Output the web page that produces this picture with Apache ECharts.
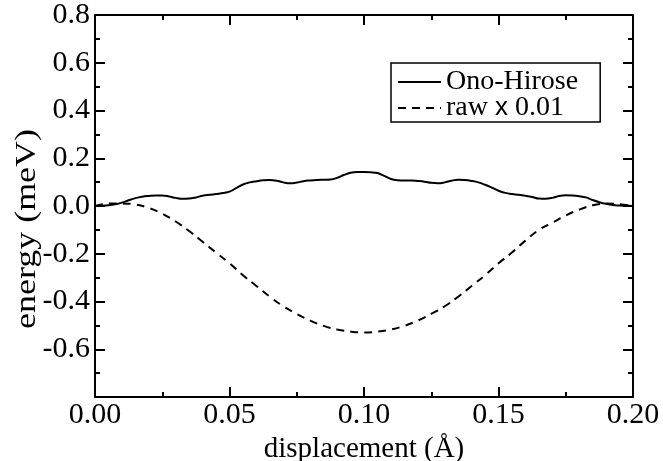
<!DOCTYPE html>
<html>
<head>
<meta charset="utf-8">
<script src="https://cdn.jsdelivr.net/npm/echarts@6/dist/echarts.min.js"></script>
<style>
  html, body { margin: 0; padding: 0; background: #fff; }
  #chart { width: 663px; height: 461px; }
</style>
</head>
<body>
<div id="chart"></div>
<script>
// displacement (Å) sample points
const xOno = [];
for (let i = 0; i <= 80; i++) xOno.push(+(i * 0.0025).toFixed(4));
// Ono-Hirose energy (meV), every 0.0025 Å
const onoHirose = [
  0.000, 0.001, 0.003, 0.007, 0.014, 0.024, 0.033, 0.039, 0.042, 0.044,
  0.044, 0.040, 0.034, 0.030, 0.031, 0.036, 0.043, 0.047, 0.050, 0.054,
  0.060, 0.075, 0.090, 0.099, 0.104, 0.108, 0.109, 0.106, 0.099, 0.095,
  0.098, 0.104, 0.107, 0.109, 0.110, 0.111, 0.118, 0.130, 0.139, 0.142,
  0.142, 0.141, 0.138, 0.126, 0.113, 0.108, 0.107, 0.107, 0.105, 0.102,
  0.097, 0.095, 0.099, 0.106, 0.110, 0.109, 0.105, 0.099, 0.089, 0.077,
  0.064, 0.055, 0.050, 0.047, 0.043, 0.038, 0.031, 0.030, 0.034, 0.042,
  0.045, 0.044, 0.041, 0.036, 0.025, 0.016, 0.009, 0.004, 0.002, 0.001,
  0.000
];
// raw x 0.01, every 0.005 Å
const xRaw = [];
for (let i = 0; i <= 40; i++) xRaw.push(+(i * 0.005).toFixed(4));
const rawScaled = [
  0.000, 0.010, 0.011, 0.006, -0.008, -0.032, -0.065, -0.105, -0.150, -0.195,
  -0.240, -0.290, -0.335, -0.380, -0.420, -0.452, -0.480, -0.502, -0.517, -0.526,
  -0.530, -0.526, -0.517, -0.502, -0.480, -0.452, -0.420, -0.380, -0.335, -0.290,
  -0.240, -0.195, -0.145, -0.100, -0.070, -0.040, -0.015, 0.003, 0.010, 0.008,
  0.000
];
const seriesNames = ['Ono-Hirose', 'raw x 0.01'];

const serif = '"Liberation Serif", "DejaVu Serif", serif';
const sans = '"Liberation Sans", Arial, sans-serif';

const pair = (xs, ys) => xs.map((x, i) => [x, ys[i]]);

const tickCommon = {
  axisLine: { show: true, onZero: false, lineStyle: { color: '#000', width: 2 } },
  axisTick: { show: true, inside: true, length: 10, lineStyle: { color: '#000', width: 2 } },
  minorTick: { show: true, splitNumber: 2, length: 5, lineStyle: { color: '#000', width: 2 } },
  splitLine: { show: false }
};

const xBase = { type: 'value', min: 0, max: 0.2, interval: 0.05, ...tickCommon };
const yBase = { type: 'value', min: -0.8, max: 0.8, interval: 0.2, ...tickCommon };

const chart = echarts.init(document.getElementById('chart'), null, { renderer: 'canvas' });
chart.setOption({
  animation: false,
  backgroundColor: '#fff',
  grid: { left: 95, right: 30, top: 15, bottom: 64, outerBoundsMode: 'none', containLabel: false },
  xAxis: [
    {
      ...xBase,
      position: 'bottom',
      name: 'displacement (Å)',
      nameLocation: 'middle',
      nameGap: 29,
      nameTextStyle: { fontFamily: serif, fontSize: 29, color: '#000' },
      axisLabel: {
        fontFamily: serif, fontSize: 30, color: '#000', margin: 3,
        formatter: v => v.toFixed(2)
      }
    },
    { ...xBase, position: 'top', axisLabel: { show: false } }
  ],
  yAxis: [
    {
      ...yBase,
      position: 'left',
      axisLabel: {
        fontFamily: serif, fontSize: 30, color: '#000', margin: 5,
        formatter: v => (Math.abs(v + 0.8) < 1e-6 ? '' : v.toFixed(1))
      }
    },
    { ...yBase, position: 'right', axisLabel: { show: false } }
  ],
  // y axis title, a little stretched along its length like the reference
  graphic: [
    {
      type: 'text',
      x: 27,
      y: 229,
      rotation: Math.PI / 2,
      scaleX: 1.24,
      style: {
        text: 'energy (meV)',
        font: '29px "Liberation Serif", serif',
        fill: '#000',
        align: 'center',
        verticalAlign: 'middle'
      }
    }
  ],
  legend: {
    orient: 'vertical',
    left: 391,
    top: 63,
    padding: [5, 22, 0, 6],
    itemGap: -2,
    itemWidth: 43,
    itemHeight: 14,
    borderColor: '#000',
    borderWidth: 1.5,
    borderRadius: 0,
    backgroundColor: '#fff',
    itemStyle: { opacity: 0 },
    data: seriesNames,
    textStyle: {
      fontFamily: serif, fontSize: 28, color: '#000', lineHeight: 22,
      rich: {
        s: { fontFamily: serif, fontSize: 28, color: '#000', lineHeight: 22 },
        x: { fontFamily: sans, fontSize: 26, color: '#000', lineHeight: 22 }
      }
    },
    formatter: name => name === seriesNames[1] ? '{s|raw }{x|x}{s| 0.01}' : name
  },
  series: [
    {
      name: seriesNames[0],
      type: 'line',
      data: pair(xOno, onoHirose),
      smooth: 0.4,
      symbol: 'none',
      lineStyle: { color: '#000', width: 2 },
      itemStyle: { color: '#000' }
    },
    {
      name: seriesNames[1],
      type: 'line',
      data: pair(xRaw, rawScaled),
      smooth: 0.4,
      symbol: 'none',
      lineStyle: { color: '#000', width: 2, type: [8, 6] },
      itemStyle: { color: '#000' }
    }
  ]
});
</script>
</body>
</html>
